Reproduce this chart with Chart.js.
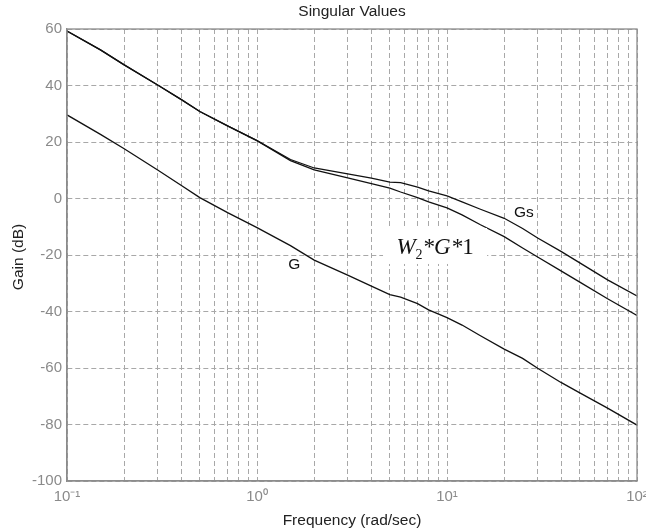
<!DOCTYPE html>
<html lang="en">
<head>
  <meta charset="UTF-8" />
  <title>Singular Values</title>
  <script src="https://cdn.jsdelivr.net/npm/chart.js"></script>
  <style>
    body {
      margin: 0;
      background: #ffffff;
    }
    canvas {
      display: block;
    }
  </style>
</head>
<body>

<canvas id="sv" width="646" height="532"></canvas>

<script>
const freq = [0.1, 0.15, 0.2, 0.3, 0.4, 0.5, 0.7, 1, 1.5, 2, 3, 4, 5, 5.7, 7, 8, 10, 12, 15, 20, 25, 30, 40, 50, 70, 100];

// gains in dB
const gainGs = [59.3, 52.6, 47.3, 40.2, 35.0, 30.8, 25.7, 20.5, 13.8, 10.8, 8.7, 7.2, 5.8, 5.6, 4.0, 2.7, 0.9, -1.2, -3.8, -7.0, -10.6, -14.0, -18.8, -22.8, -28.8, -34.5];
const gainW2G = [59.3, 52.6, 47.3, 40.2, 35.0, 30.8, 25.7, 20.5, 13.4, 10.1, 7.3, 5.3, 3.7, 2.3, 0.3, -1.2, -3.3, -5.8, -9.3, -13.5, -17.5, -20.7, -25.7, -29.6, -35.5, -41.4];
const gainG = [29.6, 22.7, 17.6, 10.1, 4.6, 0.3, -5.0, -10.3, -16.7, -21.8, -27.1, -31.0, -34.0, -34.9, -37.2, -39.4, -42.2, -44.8, -48.6, -53.3, -56.6, -60.1, -65.2, -68.8, -74.2, -80.2];

// grid lines on the log axis, and which of them get a label
const xGrid = [0.1, 0.2, 0.3, 0.4, 0.5, 0.6, 0.7, 0.8, 0.9,
               1, 2, 3, 4, 5, 6, 7, 8, 9,
               10, 20, 30, 40, 50, 60, 70, 80, 90, 100];
const xDecades = [0.1, 1, 10, 100];
const xDecadeLabels = ['10\u207B\u00B9', '10\u2070', '10\u00B9', '10\u00B2'];
const yTicks = [-100, -80, -60, -40, -20, 0, 20, 40, 60];

// curve labels: [text, frequency, gain]
const curveNotes = [
  ['Gs', 25.4, -5.1],
  ['G', 1.57, -23.5]
];

const toPoints = (ys) => freq.map((f, i) => ({ x: f, y: ys[i] }));

const lineStyle = {
  borderColor: '#111111',
  borderWidth: 1.3,
  pointRadius: 0,
  showLine: true,
  fill: false,
  tension: 0
};

const sans = 'Arial, "Liberation Sans", sans-serif';

// frame, titles, and curve labels
const decorPlugin = {
  id: 'decor',
  afterDraw(chart) {
    const ctx = chart.ctx;
    const a = chart.chartArea;
    const xs = chart.scales.x;
    const ys = chart.scales.y;
    ctx.save();

    // full box round the axes
    ctx.strokeStyle = '#8c8c8c';
    ctx.lineWidth = 1.3;
    ctx.setLineDash([]);
    ctx.strokeRect(a.left, a.top, a.right - a.left, a.bottom - a.top);

    ctx.fillStyle = '#222222';
    ctx.textAlign = 'center';
    ctx.textBaseline = 'middle';
    ctx.font = '15.5px ' + sans;
    ctx.fillText('Singular Values', (a.left + a.right) / 2, 12);
    ctx.fillText('Frequency (rad/sec)', (a.left + a.right) / 2, 521);

    ctx.save();
    ctx.translate(19, 257);
    ctx.rotate(-Math.PI / 2);
    ctx.fillText('Gain (dB)', 0, 0);
    ctx.restore();

    // plain curve labels
    ctx.font = '15.5px ' + sans;
    ctx.fillStyle = '#111111';
    curveNotes.forEach(([txt, f, g]) => {
      ctx.fillText(txt, xs.getPixelForValue(f), ys.getPixelForValue(g));
    });

    // W2*G*1 label on a white patch
    const cx = xs.getPixelForValue(8.65);
    const cy = ys.getPixelForValue(-16.8);
    ctx.fillStyle = '#ffffff';
    ctx.fillRect(cx - 52, cy - 18, 104, 36);
    ctx.fillStyle = '#111111';
    ctx.textAlign = 'left';
    ctx.textBaseline = 'alphabetic';
    const serif = '"Liberation Serif", "Times New Roman", serif';
    ctx.font = 'italic 23px ' + serif;
    const wW = ctx.measureText('W').width;
    ctx.font = '14px ' + serif;
    const w2 = ctx.measureText('2').width;
    ctx.font = 'italic 23px ' + serif;
    const wRest = ctx.measureText('*G*').width;
    ctx.font = '23px ' + serif;
    const w1 = ctx.measureText('1').width;
    let x = cx - (wW + w2 + wRest + w1) / 2;
    const base = cy + 8;
    ctx.font = 'italic 23px ' + serif;
    ctx.fillText('W', x, base); x += wW;
    ctx.font = '14px ' + serif;
    ctx.fillText('2', x, base + 5); x += w2;
    ctx.font = 'italic 23px ' + serif;
    ctx.fillText('*G*', x, base); x += wRest;
    ctx.font = '23px ' + serif;
    ctx.fillText('1', x, base);

    ctx.restore();
  }
};

new Chart(document.getElementById('sv'), {
  type: 'scatter',
  data: {
    datasets: [
      Object.assign({ label: 'Gs', data: toPoints(gainGs) }, lineStyle),
      Object.assign({ label: 'W2*G*1', data: toPoints(gainW2G) }, lineStyle),
      Object.assign({ label: 'G', data: toPoints(gainG) }, lineStyle)
    ]
  },
  options: {
    responsive: false,
    animation: false,
    layout: { padding: { top: 29, right: 9, left: 0, bottom: 0 } },
    plugins: {
      legend: { display: false },
      tooltip: { enabled: false },
      title: { display: false }
    },
    scales: {
      x: {
        type: 'logarithmic',
        min: 0.1,
        max: 100,
        afterBuildTicks: (scale) => {
          scale.ticks = xGrid.map(v => ({ value: v }));
        },
        afterFit: (scale) => {
          scale.height = 51;
          // let the last label run off the edge like the original
          scale.paddingLeft = 0;
          scale.paddingRight = 0;
        },
        ticks: {
          autoSkip: false,
          maxRotation: 0,
          padding: 7,
          color: '#8a8a8a',
          font: { size: 15, family: sans },
          callback: (v) => {
            const i = xDecades.findIndex(d => Math.abs(d - v) < 1e-9);
            return i >= 0 ? xDecadeLabels[i] : '';
          }
        },
        grid: {
          color: '#a8a8a8',
          lineWidth: 1,
          drawTicks: false
        },
        border: { color: '#8c8c8c', width: 1.3, dash: [5, 3] }
      },
      y: {
        min: -100,
        max: 60,
        afterBuildTicks: (scale) => {
          scale.ticks = yTicks.map(v => ({ value: v }));
        },
        afterFit: (scale) => {
          scale.width = 67;
          scale.paddingTop = 0;
          scale.paddingBottom = 0;
        },
        ticks: {
          padding: 5,
          color: '#8a8a8a',
          font: { size: 15, family: sans }
        },
        grid: {
          color: '#a8a8a8',
          lineWidth: 1,
          drawTicks: false
        },
        border: { color: '#8c8c8c', width: 1.3, dash: [5, 3] }
      }
    }
  },
  plugins: [decorPlugin]
});
</script>
</body>
</html>
